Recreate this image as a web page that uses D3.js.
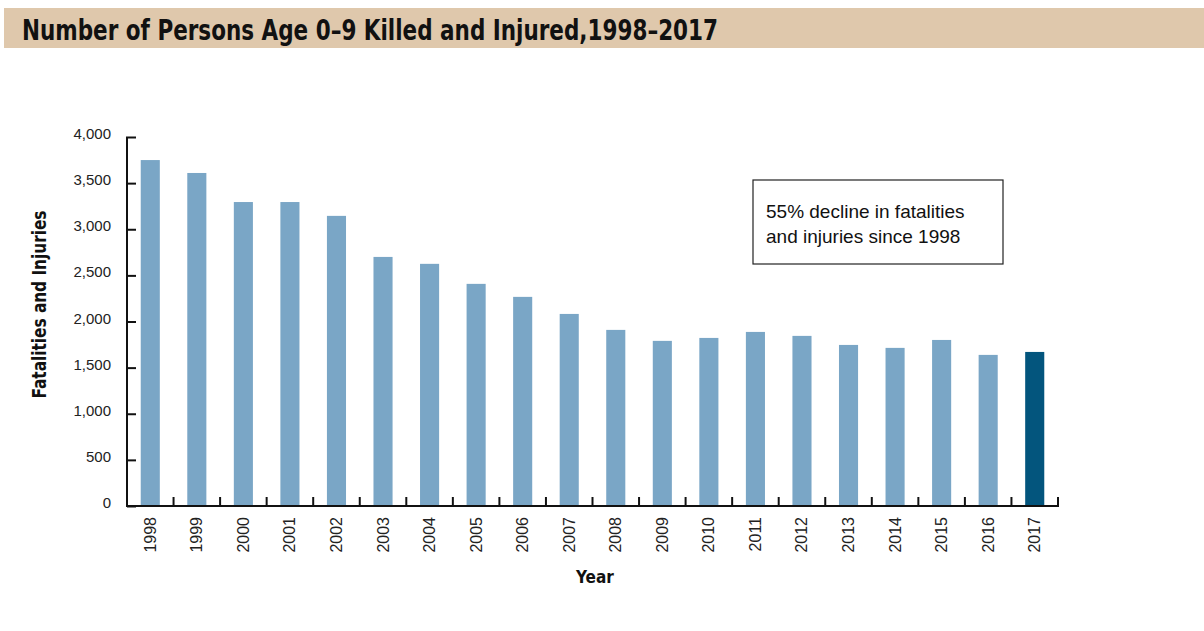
<!DOCTYPE html>
<html>
<head>
<meta charset="utf-8">
<script src="https://cdn.jsdelivr.net/npm/d3@7"></script>
<style>
  body { margin: 0; background: #fff; }
  svg { display: block; }
</style>
</head>
<body>
<svg id="chart" width="1204" height="631"></svg>
<script>
// data
var years = ["1998","1999","2000","2001","2002","2003","2004","2005","2006","2007",
             "2008","2009","2010","2011","2012","2013","2014","2015","2016","2017"];
var casualties = [3750,3610,3295,3295,3145,2700,2625,2408,2267,2082,
                  1909,1790,1822,1887,1844,1746,1714,1800,1638,1670];
var yTicks = [0,500,1000,1500,2000,2500,3000,3500,4000];
var noteLines = ["55% decline in fatalities", "and injuries since 1998"];

var svg = d3.select("#chart");
var margin = {top: 137, left: 127, right: 146, bottom: 125};
var width = 1204 - margin.left - margin.right;   // 931
var height = 631 - margin.top - margin.bottom;    // 369

// title band
svg.append("rect")
  .attr("x", 4).attr("y", 8)
  .attr("width", 1200).attr("height", 40)
  .attr("fill", "#dfc8ac");
svg.append("text")
  .attr("x", 22).attr("y", 40)
  .attr("font-family", "'Liberation Sans Narrow', 'DejaVu Sans Condensed', sans-serif")
  .attr("font-weight", "bold")
  .attr("font-size", 28)
  .attr("textLength", 696)
  .attr("lengthAdjust", "spacingAndGlyphs")
  .attr("fill", "#111")
  .text("Number of Persons Age 0\u20139 Killed and Injured,1998\u20132017");

var g = svg.append("g").attr("transform", "translate(" + margin.left + "," + margin.top + ")");

var x = d3.scaleBand().domain(years).range([0, width]).paddingInner(0.59).paddingOuter(0.295);
var y = d3.scaleLinear().domain([0, 4000]).range([height, 0]);

// bars
g.selectAll("rect.bar")
  .data(years)
  .enter().append("rect")
  .attr("class", "bar")
  .attr("x", function(d) { return x(d); })
  .attr("width", x.bandwidth())
  .attr("y", function(d, i) { return y(casualties[i]); })
  .attr("height", function(d, i) { return height - y(casualties[i]); })
  .attr("fill", function(d, i) { return i == years.length - 1 ? "#03557d" : "#7aa6c6"; });

// y axis, ticks point inward
var yAxis = d3.axisRight(y).tickValues(yTicks).tickSize(9).tickFormat(d3.format(","));
var ya = g.append("g").call(yAxis);
ya.select(".domain").attr("stroke", "#111").attr("stroke-width", 2)
  .attr("d", "M0," + height + "V0");
ya.selectAll(".tick line").attr("stroke", "#111").attr("stroke-width", 2);
ya.selectAll(".tick text")
  .attr("x", -16).attr("dy", "0.1em")
  .attr("text-anchor", "end")
  .attr("font-family", "'Liberation Sans', Arial, sans-serif")
  .attr("font-size", 15)
  .attr("fill", "#222");
ya.select(".tick:last-of-type line").attr("x1", -1);

// x axis with boundary ticks pointing up
var xa = g.append("g").attr("transform", "translate(0," + height + ")");
xa.append("line")
  .attr("x1", -1).attr("x2", width + 1)
  .attr("stroke", "#111").attr("stroke-width", 2);
var step = x.step();
var bounds = d3.range(1, years.length + 1);
xa.selectAll("line.tick")
  .data(bounds)
  .enter().append("line")
  .attr("class", "tick")
  .attr("x1", function(d) { return x(years[0]) - x.step() * x.paddingOuter() + d * step; })
  .attr("x2", function(d) { return x(years[0]) - x.step() * x.paddingOuter() + d * step; })
  .attr("y1", 1).attr("y2", -9)
  .attr("stroke", "#111").attr("stroke-width", 2);
xa.selectAll("text.yr")
  .data(years)
  .enter().append("text")
  .attr("class", "yr")
  .attr("transform", function(d) { return "translate(" + (x(d) + x.bandwidth() / 2 + 5.5) + ",11) rotate(-90)"; })
  .attr("text-anchor", "end")
  .attr("font-family", "'Liberation Sans', Arial, sans-serif")
  .attr("font-size", 16)
  .attr("fill", "#222")
  .text(function(d) { return d; });

// axis titles
svg.append("text")
  .attr("transform", "translate(46," + (margin.top + height / 2 - 17) + ") rotate(-90)")
  .attr("text-anchor", "middle")
  .attr("font-family", "'Liberation Sans Narrow', 'DejaVu Sans Condensed', sans-serif")
  .attr("font-weight", "bold")
  .attr("font-size", 19)
  .attr("textLength", 188)
  .attr("lengthAdjust", "spacingAndGlyphs")
  .attr("fill", "#111")
  .text("Fatalities and Injuries");
svg.append("text")
  .attr("x", 595).attr("y", 583)
  .attr("text-anchor", "middle")
  .attr("font-family", "'Liberation Sans Narrow', 'DejaVu Sans Condensed', sans-serif")
  .attr("font-weight", "bold")
  .attr("font-size", 17)
  .attr("fill", "#111")
  .text("Year");

// annotation box
var note = svg.append("g").attr("transform", "translate(753,180)");
note.append("rect")
  .attr("width", 250).attr("height", 84)
  .attr("fill", "#fff").attr("stroke", "#222").attr("stroke-width", 1.2);
note.selectAll("text")
  .data(noteLines)
  .enter().append("text")
  .attr("x", 13)
  .attr("y", function(d, i) { return 38 + i * 25; })
  .attr("font-family", "'Liberation Sans Narrow', 'Liberation Sans', sans-serif")
  .attr("font-size", 19)
  .attr("fill", "#111")
  .text(function(d) { return d; });
</script>
</body>
</html>
